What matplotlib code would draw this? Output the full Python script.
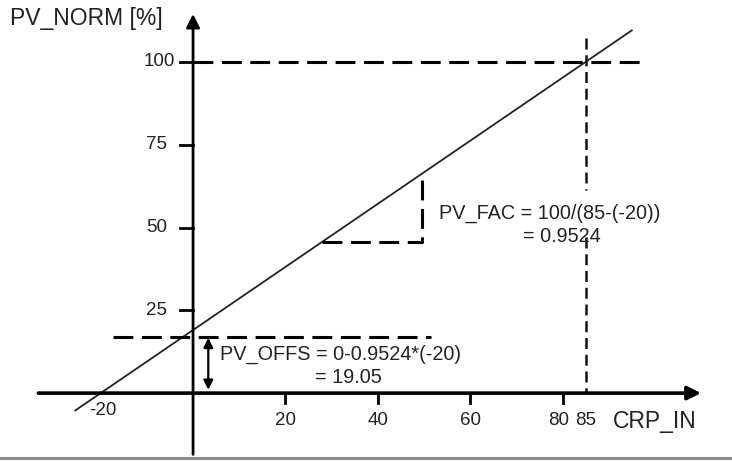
import numpy as np
import matplotlib
matplotlib.use("Agg")
import matplotlib.pyplot as plt
from matplotlib.lines import Line2D

plt.rcParams['font.family'] = ['Liberation Sans', 'DejaVu Sans']

# scaling data
crp_min = -20
crp_max = 85
pv_fac = 100 / (crp_max - crp_min)   # 0.9524
pv_offs = 0 - pv_fac * crp_min       # 19.05

x_ticks = [20, 40, 60, 80]
x_tick_labels = ['20', '40', '60', '80']
y_ticks = [25, 50, 75, 100]
line_x = [-25.5, 95]
tri_x = [28, 49.6]
offs_dash_y = 17

fig = plt.figure(figsize=(7.32, 4.61), dpi=100)
ax = fig.add_axes([0, 0, 1, 1])
ax.set_xlim(-41.8, 116.7)
ax.set_ylim(-20.5, 118.7)
ax.axis('off')

tc = '#222222'
fs = 13.5
fs_lab = 16.5
fs_txt = 14.3

# axes with arrows
ax.annotate('', xy=(110, 0), xytext=(-33.5, 0),
            arrowprops=dict(arrowstyle='-|>', lw=2.6, color='black', mutation_scale=20, shrinkA=0, shrinkB=0))
ax.annotate('', xy=(0, 114.5), xytext=(0, -18.5),
            arrowprops=dict(arrowstyle='-|>', lw=2.0, color='black', mutation_scale=20, shrinkA=0, shrinkB=0))

# ticks
for t in x_ticks:
    ax.plot([t, t], [0, -3], color='black', lw=2)
for t in y_ticks:
    ax.plot([-2.8, 0 if t != 100 else 2.2], [t, t], color='black', lw=2)

# tick labels
for t, lab in zip(x_ticks, x_tick_labels):
    dx = -0.8 if t == 80 else 0
    ax.text(t + dx, -8.2, lab, ha='center', va='center', fontsize=fs, color=tc)
ax.text(crp_max, -8.2, str(crp_max), ha='center', va='center', fontsize=fs, color=tc)
ax.text(crp_min + 0.5, -5.2, str(crp_min), ha='center', va='center', fontsize=fs, color=tc)
for t in y_ticks:
    ax.text(-3.9 if t == 100 else -5.6, t, str(t), ha='right', va='center', fontsize=fs, color=tc)

ax.text(90.9, -8.6, 'CRP_IN', ha='left', va='center', fontsize=fs_lab, color=tc)
ax.text(-39.7, 113.0, 'PV_NORM [%]', ha='left', va='center', fontsize=fs_lab, color=tc)

# characteristic line
lx = np.array(line_x)
ax.plot(lx, pv_fac * lx + pv_offs, color='#222222', lw=1.3)

dash = dict(color='black', lw=2.2, dashes=(6.5, 2.8))
dash_thin = dict(color='#111111', lw=1.8, dashes=(4.4, 2.3))
# 100 % guide
ax.plot([0, 97], [100, 100], **dash)
# 85 guide, broken where the PV_FAC text sits
ax.plot([crp_max, crp_max], [107.3, 61.3], **dash_thin)
ax.plot([crp_max, crp_max], [47.1, 0], **dash_thin)
# slope triangle
ax.plot([tri_x[0], tri_x[1], tri_x[1]],
        [pv_fac * tri_x[0] + pv_offs, pv_fac * tri_x[0] + pv_offs, pv_fac * tri_x[1] + pv_offs], **dash)
# offset guide
ax.plot([-17.4, 51.5], [offs_dash_y, offs_dash_y], **dash)

# double arrow for offset
ax.annotate('', xy=(3.3, 1.0), xytext=(3.3, offs_dash_y - 0.3),
            arrowprops=dict(arrowstyle='<|-|>', lw=1.6, color='black', mutation_scale=14, shrinkA=0, shrinkB=0))

ax.text(53.2, 54.2, 'PV_FAC = 100/(85-(-20))', ha='left', va='center', fontsize=fs_txt, color=tc)
ax.text(71.4, 47.3, '= 0.9524', ha='left', va='center', fontsize=fs_txt, color=tc)
ax.text(5.8, 11.8, 'PV_OFFS = 0-0.9524*(-20)', ha='left', va='center', fontsize=fs_txt, color=tc)
ax.text(26.4, 4.6, '= 19.05', ha='left', va='center', fontsize=fs_txt, color=tc)

# bottom rule
fig.add_artist(Line2D([0.0, 1.0], [1 - 458 / 461, 1 - 458 / 461], transform=fig.transFigure,
                      color='#8a8a8a', lw=2.2))

fig.savefig('out.png', dpi=100)
